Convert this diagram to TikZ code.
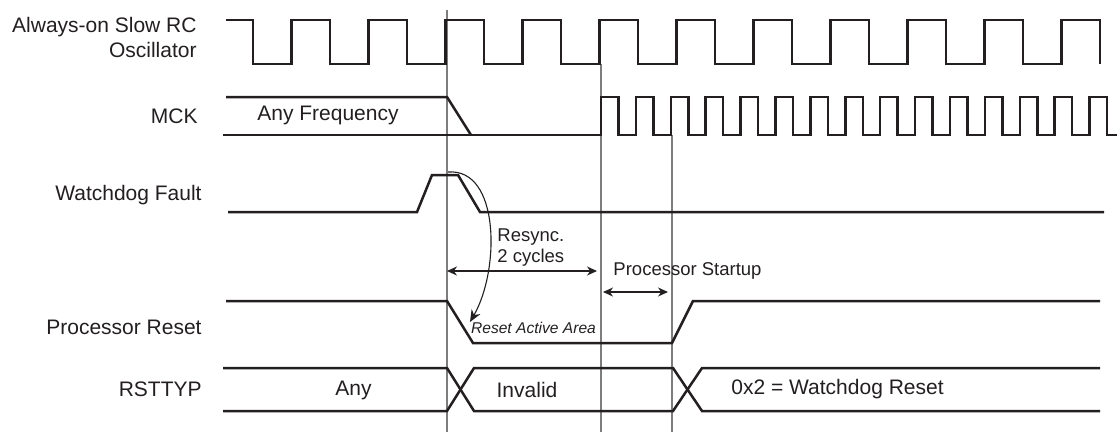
\documentclass[tikz,border=0pt]{standalone}
\usepackage{fontspec}
\setmainfont{Liberation Sans}
\usetikzlibrary{arrows.meta}
\definecolor{sigline}{RGB}{35,31,32}
\definecolor{markline}{RGB}{125,125,125}
\tikzset{
  signal/.style={line width=1.25pt, draw=sigline, line join=miter},
  edgemark/.style={line width=0.6pt, draw=markline},
  siglabel/.style={anchor=east, inner sep=0pt, text=sigline, align=right, font=\fontsize{10.5}{12.5}\selectfont},
  valuelabel/.style={inner sep=0pt, text=sigline, font=\fontsize{10.5}{12.5}\selectfont},
  note/.style={inner sep=0pt, text=sigline, font=\fontsize{9.25}{10.5}\selectfont},
  spanarrow/.style={line width=0.55pt, draw=sigline, {Stealth[length=5pt,width=4.5pt]}-{Stealth[length=5pt,width=4.5pt]}},
}
\begin{document}
\begin{tikzpicture}[x=0.5pt,y=-0.5pt]
    \useasboundingbox (0,0) rectangle (1117,434);

    % Event markers
    \coordinate (fault) at (447,10);
    \coordinate (resync) at (601,64);
    \coordinate (startup) at (672,135);
    \draw[edgemark] (fault) -- (447,432);
    \draw[edgemark] (resync) -- (601,432);
    \draw[edgemark] (startup) -- (672,432);

    % Signal names
    \node[siglabel] (osclbl) at (197,37.5) {Always-on Slow RC\\Oscillator};
    \node[siglabel] (mcklbl) at (198,116) {MCK};
    \node[siglabel] (wdflbl) at (202,195) {Watchdog Fault};
    \node[siglabel] (rstlbl) at (202,327) {Processor Reset};
    \node[siglabel] (typlbl) at (202,389) {RSTTYP};

    % Slow RC oscillator
    \draw[signal] (226,20) foreach \k in {0,...,10} {
        -- ({253+77*\k},20) -- ({253+77*\k},64)
        -- ({291.5+77*\k},64) -- ({291.5+77*\k},20) }
        -- (1100,20) -- (1100,64);

    % MCK: any frequency, stopped, then restarted
    \draw[signal] (226,97) -- (447,97) -- (471,135);
    \draw[signal] (223,135) -- (601,135) foreach \k in {0,...,14} {
        -- ({601+34.9*\k},135) -- ({601+34.9*\k},97)
        -- ({618.45+34.9*\k},97) -- ({618.45+34.9*\k},135) }
        -- (1117,135);
    \node[valuelabel] (anyfreq) at (328,115.5) {Any Frequency};

    % Watchdog fault pulse
    \draw[signal] (228,212) -- (417,212) -- (432,175) -- (458,175) -- (480,212) -- (1104,212);

    % Processor reset
    \draw[signal] (226,301) -- (447,301) -- (473,343) -- (672,343) -- (693,301) -- (1100,301);
    \node[inner sep=0pt, text=sigline, font=\fontsize{7.8}{9}\selectfont\itshape] (active) at (533.5,328) {Reset Active Area};

    % RSTTYP bus
    \draw[signal] (223,368) -- (447,368) -- (474,411) -- (673,411) -- (702,368) -- (1100,368);
    \draw[signal] (223,411) -- (447,411) -- (474,368) -- (673,368) -- (702,411) -- (1100,411);
    \node[valuelabel] (anyval) at (353.5,390) {Any};
    \node[valuelabel] (invalid) at (527,390) {Invalid};
    \node[valuelabel] (wdreset) at (837.5,389) {0x2 = Watchdog Reset};

    % Fault to reset
    \coordinate (wdtop) at (448,172);
    \coordinate (rsttip) at (470,322);
    \draw[line width=0.55pt, sigline, -{Stealth[length=6pt,width=5pt]}] (wdtop) .. controls (500,168) and (500,270) .. (rsttip);

    % Durations
    \coordinate (rsA) at (447,271);
    \coordinate (rsB) at (597,271);
    \draw[spanarrow] (rsA) -- (rsB);
    \node[note, anchor=west, align=left] (resynclbl) at (497,247.5) {Resync.\\2 cycles};
    \coordinate (psA) at (603,292);
    \coordinate (psB) at (668,292);
    \draw[spanarrow] (psA) -- (psB);
    \node[note] (startlbl) at (687.5,271) {Processor Startup};
\end{tikzpicture}
\end{document}
